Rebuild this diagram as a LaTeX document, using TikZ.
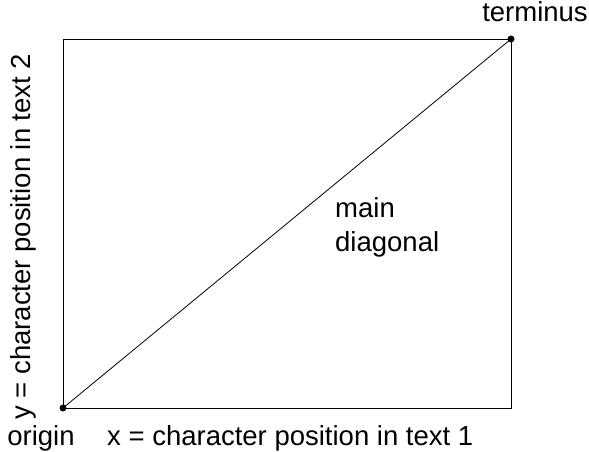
\documentclass[tikz,border=0pt]{standalone}
\usepackage{fontspec}
\setmainfont{Liberation Sans}
\begin{document}
\begin{tikzpicture}[x=1pt,y=1pt,
  lbl/.style={inner sep=0pt,font=\fontsize{27.5}{33}\selectfont},
  dot/.style={circle,fill=black,inner sep=0pt,minimum size=7pt}]
\useasboundingbox (0,0) rectangle (589,451);
\coordinate (bl) at (63,43);
\coordinate (tr) at (511,412);
\draw[line width=0.8pt] (bl) rectangle (tr);
\node[dot] (o) at (bl) {};
\node[dot] (t) at (tr) {};
\draw[line width=0.8pt] (o.center) -- (t.center);
\node[lbl,anchor=base] (ol) at (41,6) {origin};
\node[lbl,anchor=base west] (xl) at (107,6) {x = character position in text 1};
\node[lbl,anchor=base] (tl) at (535,429) {terminus};
\node[lbl,anchor=base west] (m1) at (335,234) {main};
\node[lbl,anchor=base west] (m2) at (335,200) {diagonal};
\node[lbl,anchor=base west,rotate=90] (yl) at (30,31) {y = character position in text 2};
\end{tikzpicture}
\end{document}
